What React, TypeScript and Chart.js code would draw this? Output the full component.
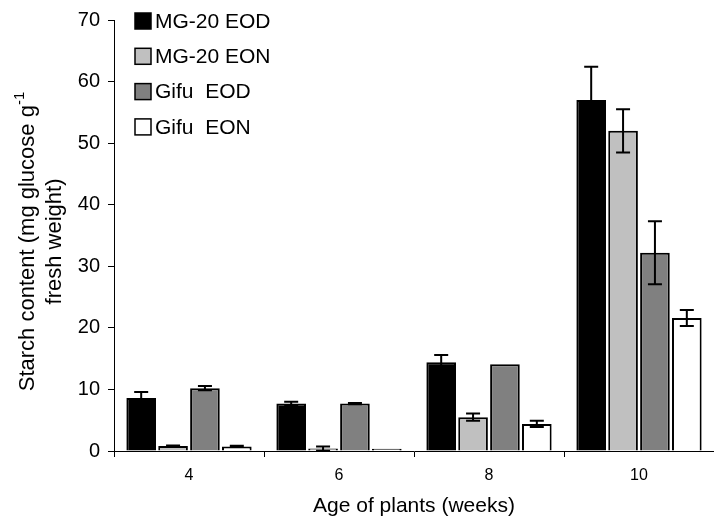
import React, { useEffect, useRef } from "react";
import { Chart, registerables } from "chart.js";

Chart.register(...registerables);

const categories = ["4", "6", "8", "10"];
const seriesLabels = ["MG-20 EOD", "MG-20 EON", "Gifu  EOD", "Gifu  EON"];
const seriesColors = ["#000000", "#c0c0c0", "#808080", "#ffffff"];

const mg20Eod = [8.6, 7.7, 14.4, 57.0];
const mg20EodErr = [1.0, 0.3, 1.2, 5.4];
const mg20Eon = [0.8, 0.4, 5.5, 52.0];
const mg20EonErr = [0.1, 0.35, 0.6, 3.5];
const gifuEod = [10.2, 7.7, 14.1, 32.2];
const gifuEodErr = [0.35, 0.1, 0.0, 5.1];
const gifuEon = [0.75, 0.35, 4.4, 21.6];
const gifuEonErr = [0.1, 0.0, 0.5, 1.3];

const yMin = 0;
const yMax = 70;
const yStep = 10;

const xTitle = "Age of plants (weeks)";
const yTitleLine1 = "Starch content (mg glucose g";
const yTitleSup = "-1";
const yTitleLine2 = "fresh weight)";

const FONT = "'Liberation Sans', Arial, sans-serif";

const seriesValues = [mg20Eod, mg20Eon, gifuEod, gifuEon];
const seriesErrors = [mg20EodErr, mg20EonErr, gifuEodErr, gifuEonErr];

const errorBarPlugin = {
  id: "errorBars",
  afterDatasetsDraw(chart: any) {
    const ctx = chart.ctx;
    const yScale = chart.scales.y;
    ctx.save();
    ctx.strokeStyle = "#000";
    ctx.lineWidth = 2;
    chart.data.datasets.forEach((ds: any, i: number) => {
      const meta = chart.getDatasetMeta(i);
      const errs = seriesErrors[i];
      meta.data.forEach((el: any, j: number) => {
        const e = errs[j];
        if (!e) return;
        const v = ds.data[j];
        const yTop = yScale.getPixelForValue(v + e);
        const yBot = yScale.getPixelForValue(Math.max(0, v - e));
        const x = el.x;
        const cap = 7;
        ctx.beginPath();
        ctx.moveTo(x, yTop);
        ctx.lineTo(x, yBot);
        ctx.moveTo(x - cap, yTop);
        ctx.lineTo(x + cap, yTop);
        ctx.moveTo(x - cap, yBot);
        ctx.lineTo(x + cap, yBot);
        ctx.stroke();
      });
    });
    ctx.restore();
  },
};

const annotationsPlugin = {
  id: "customText",
  afterDraw(chart: any) {
    const ctx = chart.ctx;
    const area = chart.chartArea;
    ctx.save();
    ctx.fillStyle = "#000";

    // Legend
    const lx = 135;
    const ly0 = 13;
    const rowH = 35.3;
    const box = 16;
    ctx.font = `21px ${FONT}`;
    ctx.textBaseline = "middle";
    ctx.textAlign = "left";
    seriesLabels.forEach((lab, i) => {
      const y = ly0 + i * rowH;
      ctx.fillStyle = seriesColors[i];
      ctx.fillRect(lx, y, box, box);
      ctx.strokeStyle = "#000";
      ctx.lineWidth = 1.5;
      ctx.strokeRect(lx, y, box, box);
      ctx.fillStyle = "#000";
      ctx.fillText(lab, lx + box + 4, y + box / 2 + 1);
    });

    // X title
    ctx.font = `21px ${FONT}`;
    ctx.textAlign = "center";
    ctx.textBaseline = "alphabetic";
    ctx.fillText(xTitle, (area.left + area.right) / 2, 512);

    // Y title (rotated, two lines, superscript)
    const cy = (area.top + area.bottom) / 2 + 6;
    ctx.translate(0, cy);
    ctx.rotate(-Math.PI / 2);
    ctx.font = `22px ${FONT}`;
    const w1 = ctx.measureText(yTitleLine1).width;
    ctx.font = `15px ${FONT}`;
    const ws = ctx.measureText(yTitleSup).width;
    const total = w1 + ws;
    ctx.textAlign = "left";
    ctx.font = `22px ${FONT}`;
    ctx.fillText(yTitleLine1, -total / 2, 34);
    ctx.font = `15px ${FONT}`;
    ctx.fillText(yTitleSup, -total / 2 + w1, 24);
    ctx.font = `22px ${FONT}`;
    ctx.textAlign = "center";
    ctx.fillText(yTitleLine2, 0, 61);
    ctx.restore();
  },
};

export default function App() {
  const canvasRef = useRef<HTMLCanvasElement | null>(null);

  useEffect(() => {
    if (!canvasRef.current) return;
    const chart = new Chart(canvasRef.current, {
      type: "bar",
      data: {
        labels: categories,
        datasets: seriesLabels.map((label, i) => ({
          label,
          data: seriesValues[i],
          backgroundColor: seriesColors[i],
          borderColor: "#000",
          borderWidth: 2,
          categoryPercentage: 0.85,
          barPercentage: 0.93,
        })),
      },
      options: {
        responsive: false,
        animation: false,
        devicePixelRatio: 1,
        layout: { padding: { top: 16, right: 0, left: 0, bottom: 0 } },
        plugins: {
          legend: { display: false },
          tooltip: { enabled: false },
        },
        scales: {
          x: {
            grid: {
              display: true,
              drawOnChartArea: false,
              drawTicks: true,
              tickLength: 6,
              color: "#000",
              lineWidth: 1,
            },
            border: { display: true, color: "#000", width: 1 },
            ticks: {
              color: "#000",
              font: { family: FONT, size: 16 },
              padding: 9,
            },
            afterFit: (s: any) => {
              s.height = 70;
            },
          },
          y: {
            min: yMin,
            max: yMax,
            grid: {
              display: true,
              drawOnChartArea: false,
              drawTicks: true,
              tickLength: 6,
              color: "#000",
              lineWidth: 1,
            },
            border: { display: true, color: "#000", width: 1 },
            ticks: {
              stepSize: yStep,
              color: "#000",
              font: { family: FONT, size: 20 },
              padding: 8,
            },
            afterFit: (s: any) => {
              s.width = 114;
            },
          },
        },
      },
      plugins: [errorBarPlugin, annotationsPlugin],
    });
    return () => chart.destroy();
  }, []);

  return (
    <div style={{ position: "absolute", left: 0, top: 0, width: 714, height: 521, background: "#fff" }}>
      <canvas ref={canvasRef} width={714} height={521} style={{ display: "block" }} />
    </div>
  );
}
